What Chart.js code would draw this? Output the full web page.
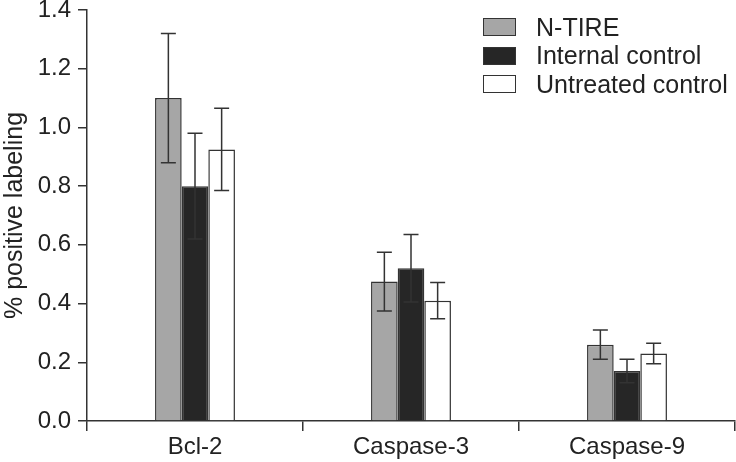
<!DOCTYPE html>
<html>
<head>
<meta charset="utf-8">
<script src="https://cdn.jsdelivr.net/npm/chart.js@4"></script>
<style>
    body { margin: 0; background: #fff; }
    #wrap { position: relative; width: 736px; height: 462px; }
    #legenda { position: absolute; left: 483px; top: 13px; font-family: 'Liberation Sans', Arial, sans-serif; font-size: 25px; color: #222; }
    .item { display: flex; align-items: center; height: 28.5px; }
    .caixa { width: 31px; height: 16px; border: 1.5px solid #333; margin-right: 20px; }
</style>
</head>
<body>
<div id="wrap">
    <canvas id="grafico" width="736" height="462"></canvas>
    <div id="legenda"></div>
</div>
<script>
// Categorias e valores
const categorias = ['Bcl-2', 'Caspase-3', 'Caspase-9'];
const nTire = [1.10, 0.475, 0.26];
const nTireErro = [0.22, 0.10, 0.05];
const controleInterno = [0.80, 0.52, 0.17];
const controleInternoErro = [0.18, 0.115, 0.04];
const naoTratado = [0.925, 0.41, 0.23];
const naoTratadoErro = [0.14, 0.062, 0.035];
const ticksY = [0, 0.2, 0.4, 0.6, 0.8, 1.0, 1.2, 1.4];

const corEixo = '#333';
const familia = "'Liberation Sans', Arial, sans-serif";
const fonte = { family: familia, size: 24 };

// Plugin para desenhar as barras de erro
const barrasErro = {
    id: 'barrasErro',
    afterDatasetsDraw(chart) {
        const ctx = chart.ctx;
        const y = chart.scales.y;
        ctx.save();
        ctx.strokeStyle = corEixo;
        ctx.lineWidth = 1.5;
        chart.data.datasets.forEach((ds, i) => {
            const meta = chart.getDatasetMeta(i);
            meta.data.forEach((bar, j) => {
                const v = ds.data[j];
                const e = ds.erro[j];
                const yTop = y.getPixelForValue(v + e);
                const yBot = y.getPixelForValue(v - e);
                ctx.beginPath();
                ctx.moveTo(bar.x, yTop);
                ctx.lineTo(bar.x, yBot);
                ctx.moveTo(bar.x - 7.5, yTop);
                ctx.lineTo(bar.x + 7.5, yTop);
                ctx.moveTo(bar.x - 7.5, yBot);
                ctx.lineTo(bar.x + 7.5, yBot);
                ctx.stroke();
            });
        });
        ctx.restore();
    }
};

const data = {
    labels: categorias,
    datasets: [
        { label: 'N-TIRE', data: nTire, erro: nTireErro, backgroundColor: '#a6a6a6' },
        { label: 'Internal control', data: controleInterno, erro: controleInternoErro, backgroundColor: '#262626' },
        { label: 'Untreated control', data: naoTratado, erro: naoTratadoErro, backgroundColor: '#ffffff' }
    ]
};
data.datasets.forEach(ds => {
    ds.borderColor = corEixo;
    ds.borderWidth = 1.5;
    ds.categoryPercentage = 0.37;
    ds.barPercentage = 1;
});

const config = {
    type: 'bar',
    data: data,
    options: {
        responsive: false,
        animation: false,
        layout: { padding: { top: 10, right: 1, left: 0, bottom: 0 } },
        plugins: {
            legend: { display: false },
            tooltip: { enabled: false }
        },
        scales: {
            x: {
                grid: { offset: true, drawOnChartArea: false, tickLength: 10, color: corEixo, lineWidth: 1.5 },
                border: { color: corEixo, width: 1.5 },
                ticks: { color: '#222', font: fonte, padding: 2 },
                afterFit(scale) { scale.height = 41; scale.paddingRight = 0; }
            },
            y: {
                min: 0,
                max: 1.4,
                afterBuildTicks(scale) { scale.ticks = ticksY.map(v => ({ value: v })); },
                grid: { drawOnChartArea: false, tickLength: 9, color: corEixo, lineWidth: 1.5 },
                border: { color: corEixo, width: 1.5 },
                ticks: { color: '#222', font: fonte, padding: 7, callback: v => v.toFixed(1) },
                title: { display: true, text: '% positive labeling', color: '#222', font: { family: familia, size: 25 }, padding: 0 },
                afterFit(scale) { scale.width = 87; scale.paddingTop = 0; scale.paddingBottom = 0; }
            }
        }
    },
    plugins: [barrasErro]
};

const ctx = document.getElementById('grafico').getContext('2d');
const grafico = new Chart(ctx, config);

// Legenda em HTML
const legenda = document.getElementById('legenda');
data.datasets.forEach(ds => {
    const item = document.createElement('div');
    item.className = 'item';
    item.innerHTML = '<span class="caixa" style="background:' + ds.backgroundColor + '"></span><span>' + ds.label + '</span>';
    legenda.appendChild(item);
});
</script>
</body>
</html>
